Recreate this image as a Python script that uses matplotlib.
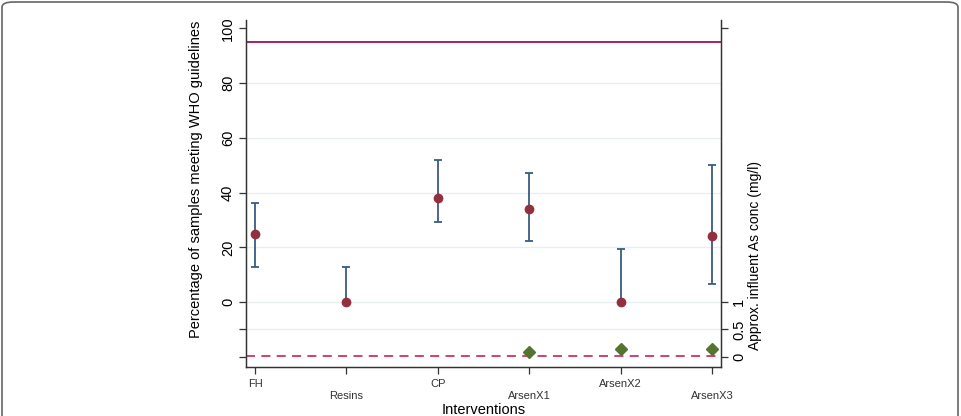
import matplotlib
matplotlib.use('Agg')
import matplotlib.pyplot as plt
from matplotlib.patches import FancyBboxPatch

plt.rcParams['font.family'] = ['Liberation Sans', 'DejaVu Sans']

interventions = ['FH', 'Resins', 'CP', 'ArsenX1', 'ArsenX2', 'ArsenX3']
pct_meeting = [25, 0, 38, 34, 0, 24]
ci_low = [12.8, 0, 29.3, 22.3, 0, 6.6]
ci_high = [36.1, 12.7, 51.7, 47, 19.5, 50]
conc_groups = ['ArsenX1', 'ArsenX2', 'ArsenX3']
influent_conc = [0.08, 0.15, 0.15]
who_target = 95
as_limit = 0.01

navy = '#3a5c80'
maroon = '#93303d'
green = '#55752f'

fig = plt.figure(figsize=(9.61, 4.16), dpi=100)
ax = fig.add_axes([246/961, 49/416, 475/961, 347/416])
ax2 = ax.twinx()

x = list(range(1, len(interventions) + 1))
pos = {name: i + 1 for i, name in enumerate(interventions)}

for v in [-10, 0, 20, 40, 60, 80]:
    ax.axhline(v, color='#e6eef0', lw=0.9, zorder=0)

ax.axhline(who_target, color='#98145a', lw=1.3, zorder=2)
yerr = [[p - l for p, l in zip(pct_meeting, ci_low)],
        [h - p for p, h in zip(pct_meeting, ci_high)]]
ax.errorbar(x, pct_meeting, yerr=yerr, fmt='none', ecolor=navy,
            elinewidth=1.3, capsize=3, capthick=1.3, zorder=3)
ax.plot(x, pct_meeting, 'o', color=maroon, ms=6, zorder=4)

ax.set_xlim(0.9, 6.1)
ax.set_ylim(-23.7, 103)
ax.set_yticks([-20, -10, 0, 20, 40, 60, 80, 100])
ax.set_yticklabels(['', '', '0', '20', '40', '60', '80', '100'],
                   rotation=90, va='center', fontsize=10.5)
ax.set_xticks(x)
ax.set_xticklabels([n if i % 2 == 0 else '\n' + n for i, n in enumerate(interventions)],
                   fontsize=8, color='#333333', linespacing=1.3)
ax.tick_params(axis='both', direction='out', length=5, width=0.9, color='#333333')
ax.tick_params(axis='y', pad=3)
ax.set_xlabel('Interventions', fontsize=10.5, labelpad=1)
ax.set_ylabel('Percentage of samples meeting WHO guidelines', fontsize=10.5)
ax.yaxis.set_label_coords(-0.09, 0.54)

ax2.axhline(as_limit, color='#d0306a', lw=1.3, ls=(0, (5, 3.5)), zorder=2)
ax2.plot([pos[g] for g in conc_groups], influent_conc, 'D', color=green, ms=6, zorder=4)
ax2.set_ylim((-23.7 + 20) / 20, (103 + 20) / 20)
ax2.set_yticks([0, 0.5, 1, 6])
ax2.set_yticklabels(['0', '0.5', '1', ''], rotation=90, va='center', fontsize=10.5)
ax2.tick_params(axis='y', direction='out', length=5, width=0.9, color='#333333', pad=3)
ax2.set_ylabel('Approx. influent As conc (mg/l)', fontsize=10)
ax2.yaxis.set_label_coords(1.057, 0.32)

for a in (ax, ax2):
    a.spines['top'].set_visible(False)
    for s in ('left', 'right', 'bottom'):
        a.spines[s].set_color('#333333')
        a.spines[s].set_linewidth(0.9)

frame = FancyBboxPatch((2/961, -0.2), 956/961, 1.2 - 2/416,
                       boxstyle='round,pad=0,rounding_size=0.012',
                       transform=fig.transFigure, fill=False,
                       edgecolor='#666666', lw=1.2)
fig.patches.append(frame)

fig.savefig('out.png', dpi=100)
